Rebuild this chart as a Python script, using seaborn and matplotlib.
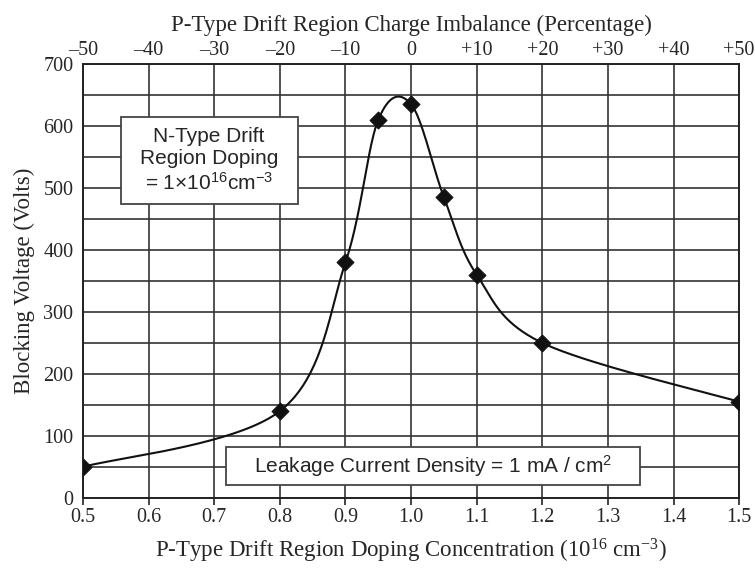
import numpy as np
import pandas as pd
import matplotlib
matplotlib.use('Agg')
import matplotlib.pyplot as plt
from matplotlib.patches import Rectangle
import seaborn as sns

# data
doping = [0.5, 0.8, 0.9, 0.95, 1.0, 1.05, 1.1, 1.2, 1.5]
voltage = [50, 140, 380, 610, 635, 485, 360, 250, 155]
x_ticks = [0.5, 0.6, 0.7, 0.8, 0.9, 1.0, 1.1, 1.2, 1.3, 1.4, 1.5]
top_labels = ['\u201350', '\u201340', '\u201330', '\u201320', '\u201310', '0',
              '+10', '+20', '+30', '+40', '+50']
y_ticks = [0, 100, 200, 300, 400, 500, 600, 700]

sns.set_style('white')
plt.rcParams['font.family'] = ['Liberation Serif', 'DejaVu Serif']
sans = ['Liberation Sans', 'DejaVu Sans']


def smooth_line(xs, ys, n=40):
    # excel-like smoothed line (catmull-rom in screen-ish space)
    sx, sy = 655.0, 0.62
    P = np.column_stack([np.array(xs) * sx, np.array(ys) * sy])
    P = np.vstack([P[0], P, P[-1]])
    out = []
    for i in range(1, len(P) - 2):
        p0, p1, p2, p3 = P[i - 1], P[i], P[i + 1], P[i + 2]
        c1 = p1 + (p2 - p0) / 6.0
        c2 = p2 - (p3 - p1) / 6.0
        t = np.linspace(0, 1, n)[:, None]
        seg = ((1 - t) ** 3) * p1 + 3 * ((1 - t) ** 2) * t * c1 + 3 * (1 - t) * t ** 2 * c2 + t ** 3 * p2
        out.append(seg if i == 1 else seg[1:])
    out = np.vstack(out)
    return out[:, 0] / sx, out[:, 1] / sy


cx, cy = smooth_line(doping, voltage)
curve = pd.DataFrame({'x': cx, 'y': cy})
points = pd.DataFrame({'x': doping, 'y': voltage})

fig = plt.figure(figsize=(7.55, 5.69), dpi=100)
ax = fig.add_axes([0.110, 0.125, 0.869, 0.7625])

sns.lineplot(data=curve, x='x', y='y', ax=ax, color='#111111', lw=1.5, sort=False, zorder=3)
sns.scatterplot(data=points, x='x', y='y', ax=ax, marker='D', s=75, color='#111111',
                edgecolor='#111111', zorder=4)

ax.set_xlim(0.5, 1.5)
ax.set_ylim(0, 700)
ax.set_xticks(x_ticks)
ax.set_xticklabels([f'{v:.1f}' for v in x_ticks])
ax.set_yticks(y_ticks)
ax.set_yticks(np.arange(50, 700, 100), minor=True)
ax.tick_params(axis='both', which='major', direction='out', length=5, width=1.2,
               labelsize=14.5, color='#222222', pad=2)
ax.tick_params(axis='y', which='minor', length=0)
ax.grid(True, which='both', color='#333333', lw=1.2)
for s in ax.spines.values():
    s.set_color('#222222')
    s.set_linewidth(1.4)

ax.set_xlabel('P-Type Drift Region Doping Concentration (10$\\mathregular{^{16}}$ cm$\\mathregular{^{-3}}$)',
              fontsize=16.5, labelpad=7)
ax.set_ylabel('Blocking Voltage (Volts)', fontsize=16.5, labelpad=6)

top = ax.twiny()
top.set_xlim(ax.get_xlim())
top.set_xticks(x_ticks)
top.set_xticklabels(top_labels)
top.tick_params(axis='x', length=0, labelsize=14.5, pad=3)
top.set_xlabel('P-Type Drift Region Charge Imbalance (Percentage)', fontsize=16.5, labelpad=7)
for s in top.spines.values():
    s.set_visible(False)

# annotation boxes
ax.add_patch(Rectangle((0.558, 474), 0.269, 140, fc='white', ec='#444444', lw=1.3, zorder=5))
ax.text(0.692, 544, 'N-Type Drift\nRegion Doping\n= 1\u00d710$\\mathregular{^{16}}$cm$\\mathregular{^{-3}}$',
        ha='center', va='center', fontsize=15, family=sans, linespacing=1.2, zorder=6)
ax.add_patch(Rectangle((0.718, 21), 0.631, 61, fc='white', ec='#444444', lw=1.3, zorder=5))
ax.text(1.034, 51, 'Leakage Current Density = 1 mA / cm$\\mathregular{^2}$',
        ha='center', va='center', fontsize=15, family=sans, zorder=6)

fig.savefig('out.png', dpi=100)
print('finished')
